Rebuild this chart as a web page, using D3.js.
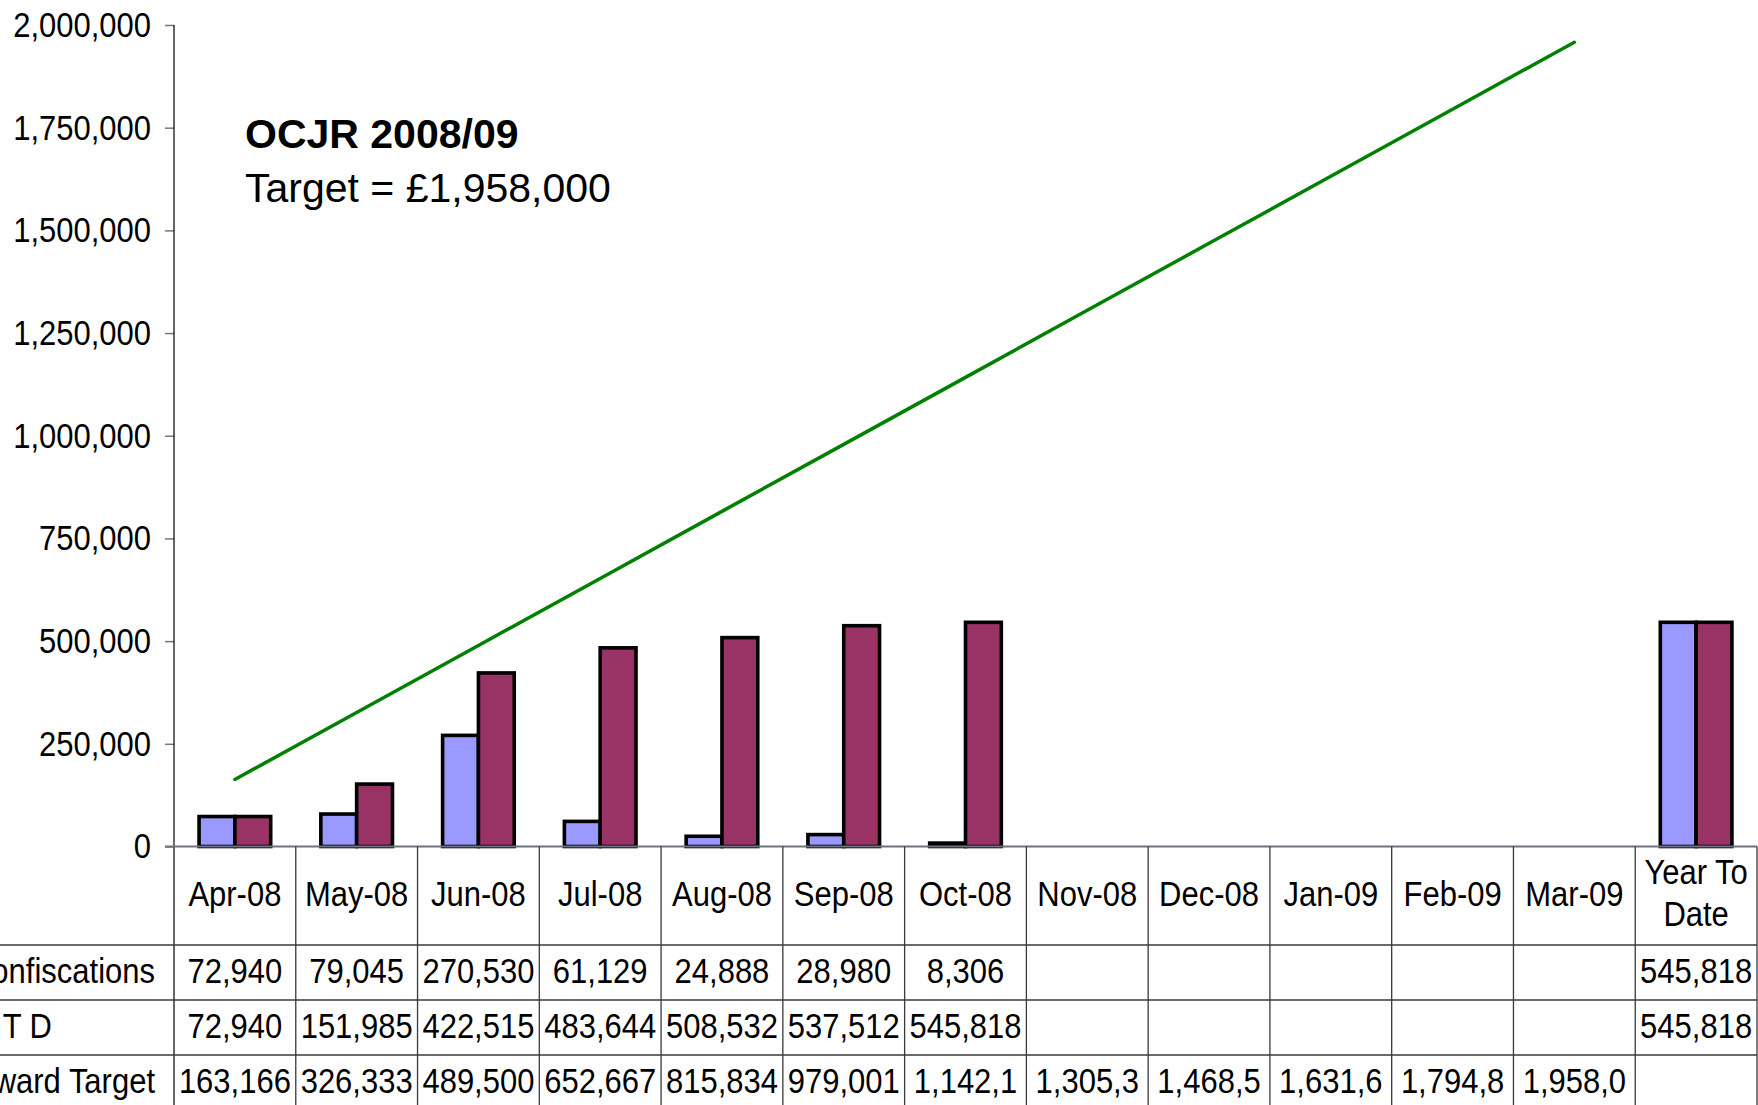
<!DOCTYPE html>
<html>
<head>
<meta charset="utf-8">
<script src="https://cdn.jsdelivr.net/npm/d3@7"></script>
<style>
  html, body { margin: 0; padding: 0; background: #fff; }
  svg { display: block; font-family: "Liberation Sans", Arial, sans-serif; }
</style>
</head>
<body>
<svg id="chart" width="1758" height="1105"></svg>
<script>
// Months of the financial year plus the year-to-date summary column
const categories = ["Apr-08", "May-08", "Jun-08", "Jul-08", "Aug-08", "Sep-08",
                    "Oct-08", "Nov-08", "Dec-08", "Jan-09", "Feb-09", "Mar-09", "Year To Date"];

// Monthly confiscation receipts (£)
const confiscations = [72940, 79045, 270530, 61129, 24888, 28980, 8306,
                       null, null, null, null, null, 545818];

// Cumulative year-to-date receipts (£)
const ytd = [72940, 151985, 422515, 483644, 508532, 537512, 545818,
             null, null, null, null, null, 545818];

// Pro-rata forward target (£), reaching £1,958,000 by March
const forwardTarget = [163166, 326333, 489500, 652667, 815834, 979001,
                       1142168, 1305335, 1468502, 1631669, 1794836, 1958000, null];

const rowLabels = ["Confiscations", "Y T D", "Forward Target"];
const yTicks = [0, 250000, 500000, 750000, 1000000, 1250000, 1500000, 1750000, 2000000];
const titleText = "OCJR 2008/09";
const subtitleText = "Target = \u00a31,958,000";

(function draw() {
  const svg = d3.select("#chart");
  const H = 1105;
  const plotLeft = 174, plotRight = 1757, plotTop = 25, zeroY = 846.5;
  const rowH = 55, headerBottom = 945;
  const FONT = 31;
  const TALL = 1.15;   // glyphs are drawn a little taller than standard proportions

  const x = d3.scaleBand().domain(categories).range([plotLeft, plotRight]).padding(0);
  const y = d3.scaleLinear().domain([0, 2000000]).range([zeroY, plotTop]);
  const fmt = d3.format(",");

  // text placed at (tx, ty) baseline, stretched vertically about its baseline
  function label(parent, tx, ty, str, anchor) {
    return parent.append("text")
      .attr("transform", `translate(${tx},${ty}) scale(1,${TALL})`)
      .attr("text-anchor", anchor || "middle")
      .text(str);
  }

  // Y axis with outside tick marks
  const yAxis = d3.axisLeft(y).tickValues(yTicks).tickFormat(fmt).tickSize(9).tickPadding(14);
  const gY = svg.append("g").attr("transform", `translate(${plotLeft},0)`).call(yAxis);
  gY.select(".domain").remove();
  gY.selectAll(".tick line").attr("stroke", "#777").attr("stroke-width", 1.5);
  gY.selectAll(".tick text")
    .attr("font-size", FONT).attr("fill", "#000")
    .attr("font-family", "Liberation Sans, Arial, sans-serif")
    .attr("transform", `scale(1,${TALL})`);

  // vertical axis line continues down as the table's left border
  svg.append("line").attr("x1", plotLeft).attr("x2", plotLeft).attr("y1", plotTop).attr("y2", H)
    .attr("stroke", "#000").attr("stroke-width", 1.2);

  // Bars
  const barW = x.bandwidth() / 3.4;
  const bars = [
    { values: confiscations, fill: "#9999FF", offset: -1 },
    { values: ytd, fill: "#993366", offset: 0 }
  ];
  bars.forEach(s => {
    svg.append("g").selectAll("rect")
      .data(categories.map((c, i) => ({ c, v: s.values[i] })).filter(d => d.v != null))
      .join("rect")
      .attr("x", d => x(d.c) + x.bandwidth() / 2 + s.offset * barW)
      .attr("y", d => y(d.v))
      .attr("width", barW)
      .attr("height", d => zeroY - y(d.v))
      .attr("fill", s.fill)
      .attr("stroke", "#000")
      .attr("stroke-width", 3.6);
  });

  // Forward target line
  const lineData = categories.map((c, i) => ({ c, v: forwardTarget[i] })).filter(d => d.v != null);
  svg.append("path")
    .datum(lineData)
    .attr("fill", "none")
    .attr("stroke", "#008000")
    .attr("stroke-width", 3.5)
    .attr("stroke-linecap", "round")
    .attr("d", d3.line().x(d => x(d.c) + x.bandwidth() / 2).y(d => y(d.v)));

  // Zero baseline
  svg.append("line").attr("x1", plotLeft - 9).attr("x2", plotRight).attr("y1", zeroY).attr("y2", zeroY)
    .attr("stroke", "#6a7382").attr("stroke-width", 2);

  // Data table grid
  const grid = svg.append("g").attr("stroke", "#3a3a3a").attr("stroke-width", 1.3);
  [headerBottom, headerBottom + rowH, headerBottom + 2 * rowH].forEach(ry => {
    grid.append("line").attr("x1", 0).attr("x2", plotRight).attr("y1", ry).attr("y2", ry);
  });
  categories.forEach(c => {
    grid.append("line").attr("x1", x(c) + x.bandwidth()).attr("x2", x(c) + x.bandwidth())
      .attr("y1", zeroY).attr("y2", H);
  });

  // Category header labels
  const header = svg.append("g").attr("font-size", FONT).attr("fill", "#000");
  categories.forEach(c => {
    const cx = x(c) + x.bandwidth() / 2;
    if (c === "Year To Date") {
      label(header, cx, 884, "Year To");
      label(header, cx, 926, "Date");
    } else {
      label(header, cx, 906, c);
    }
  });

  // Row labels
  const rowLabelEnds = [155, 52, 155];
  const rowGroup = svg.append("g").attr("font-size", FONT).attr("fill", "#000");
  rowLabels.forEach((t, r) => {
    label(rowGroup, rowLabelEnds[r], headerBottom + r * rowH + 38, t, "end");
  });

  // Table values; text wider than its cell is cut back to whole characters
  const rows = [confiscations, ytd, forwardTarget];
  const cellText = svg.append("g").attr("font-size", FONT).attr("fill", "#000");
  rows.forEach((vals, r) => {
    vals.forEach((v, i) => {
      if (v == null) return;
      const cx = x(categories[i]) + x.bandwidth() / 2;
      let s = fmt(v);
      const t = label(cellText, cx, headerBottom + r * rowH + 38, s);
      while (t.node().getComputedTextLength() > x.bandwidth() - 6 && s.length > 1) {
        s = s.slice(0, -1);
        t.text(s);
      }
    });
  });

  // Title block
  svg.append("text").attr("x", 245).attr("y", 148).attr("font-size", 41).attr("font-weight", "bold")
    .text(titleText);
  svg.append("text").attr("x", 245).attr("y", 202).attr("font-size", 41).text(subtitleText);
})();
</script>
</body>
</html>
